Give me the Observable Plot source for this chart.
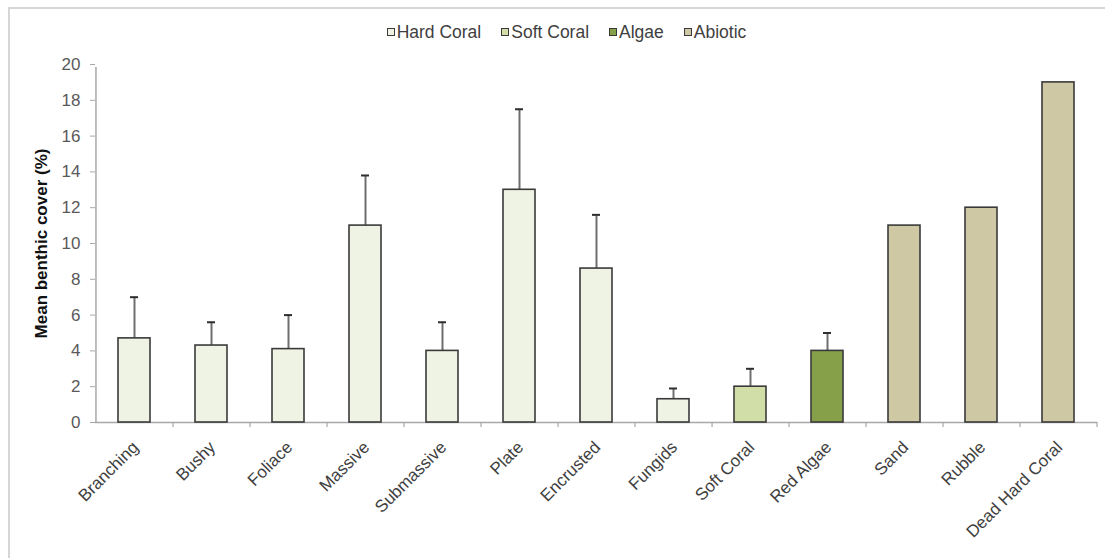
<!DOCTYPE html>
<html>
<head>
<meta charset="utf-8">
<script src="https://cdn.jsdelivr.net/npm/d3@7"></script>
<script src="https://cdn.jsdelivr.net/npm/@observablehq/plot@0.6"></script>
<style>
  html, body { margin: 0; padding: 0; background: #fff; }
  #wrap { position: relative; width: 1105px; height: 558px; overflow: hidden; font-family: "Liberation Sans", Arial, sans-serif; }
  #frame { position: absolute; left: 8px; top: 7px; width: 1200px; height: 700px; border: 2px solid #d6d6d6; box-sizing: border-box; }
  #legend { position: absolute; top: 22px; left: 14px; width: 1105px; display: flex; justify-content: center; gap: 20px; font-size: 17.5px; color: #404040; line-height: 20px; }
  #legend .item { display: flex; align-items: center; gap: 2px; }
  #legend .sw { width: 8px; height: 8px; border: 1.5px solid #3a3a3a; display: inline-block; box-sizing: border-box; }
  #chart { position: absolute; left: 0; top: 0; }
</style>
</head>
<body>
<div id="wrap">
  <div id="frame"></div>
  <div id="chart"></div>
  <div id="legend"></div>
</div>
<script>
const categories = ["Branching", "Bushy", "Foliace", "Massive", "Submassive", "Plate", "Encrusted", "Fungids", "Soft Coral", "Red Algae", "Sand", "Rubble", "Dead Hard Coral"];
const groups = ["Hard Coral", "Hard Coral", "Hard Coral", "Hard Coral", "Hard Coral", "Hard Coral", "Hard Coral", "Hard Coral", "Soft Coral", "Algae", "Abiotic", "Abiotic", "Abiotic"];
const means = [4.7, 4.3, 4.1, 11.0, 4.0, 13.0, 8.6, 1.3, 2.0, 4.0, 11.0, 12.0, 19.0];
const errors = [2.3, 1.3, 1.9, 2.8, 1.6, 4.5, 3.0, 0.6, 1.0, 1.0, null, null, null];
const groupNames = ["Hard Coral", "Soft Coral", "Algae", "Abiotic"];
const groupColors = ["#eff3e3", "#d1dea8", "#86a04a", "#cec8a5"];
const yTicks = [0, 2, 4, 6, 8, 10, 12, 14, 16, 18, 20];
const yLabel = "Mean benthic cover (%)";

const data = categories.map((c, i) => ({category: c, group: groups[i], mean: means[i], err: errors[i], upper: errors[i] == null ? null : means[i] + errors[i]}));
const withErr = data.filter(d => d.err != null);

const W = 1105, H = 558;
const mL = 95, mR = 8, mT = 64, mB = 136;
const step = (W - mL - mR) / categories.length;

const chart = Plot.plot({
  width: W,
  height: H,
  marginLeft: mL,
  marginRight: mR,
  marginTop: mT,
  marginBottom: mB,
  style: {fontFamily: "'Liberation Sans', Arial, sans-serif", background: "transparent", overflow: "visible"},
  x: {domain: categories, paddingInner: 0.58, paddingOuter: 0.29},
  y: {domain: [0, 20]},
  color: {domain: groupNames, range: groupColors},
  marks: [
    // axis lines
    Plot.ruleY([0], {stroke: "#a8a8a8", strokeWidth: 1.5}),
    Plot.ruleX([categories[0]], {x: d => d, dx: -step / 2, y1: 0, y2: 20, insetBottom: -3, stroke: "#a8a8a8", strokeWidth: 1.5}),
    // x boundary ticks
    Plot.ruleX(categories, {x: d => d, dx: step / 2, y1: 0, y2: 0, insetBottom: -5, stroke: "#a8a8a8", strokeWidth: 1.2}),
    // y axis ticks and labels
    Plot.axisY({ticks: yTicks, tickSize: 5, tickPadding: 10, tickFormat: d => d, label: null, fontSize: 17, fill: "#595959", stroke: "#a8a8a8"}),
    Plot.axisY({ticks: [], label: yLabel, labelAnchor: "center", labelOffset: 61, labelArrow: "none", fontSize: 17, fontWeight: "bold", fill: "#111"}),
    // x labels
    Plot.axisX({tickSize: 0, tickPadding: 22, tickRotate: -45, dx: 1, label: null, fontSize: 17, fill: "#404040"}),
    // error bars
    Plot.ruleX(withErr, {x: "category", y1: "mean", y2: "upper", stroke: "#6e6e6e", strokeWidth: 2}),
    Plot.tickY(withErr, {x: "category", y: "upper", stroke: "#2e2e2e", strokeWidth: 2, insetLeft: 12, insetRight: 12}),
    // bars
    Plot.barY(data, {x: "category", y: "mean", fill: "group", stroke: "#3a3a3a", strokeWidth: 1.6})
  ]
});
document.getElementById("chart").appendChild(chart);

const legend = document.getElementById("legend");
groupNames.forEach((g, i) => {
  const item = document.createElement("span");
  item.className = "item";
  const sw = document.createElement("span");
  sw.className = "sw";
  sw.style.background = groupColors[i];
  const t = document.createElement("span");
  t.textContent = g;
  item.appendChild(sw);
  item.appendChild(t);
  legend.appendChild(item);
});
</script>
</body>
</html>
